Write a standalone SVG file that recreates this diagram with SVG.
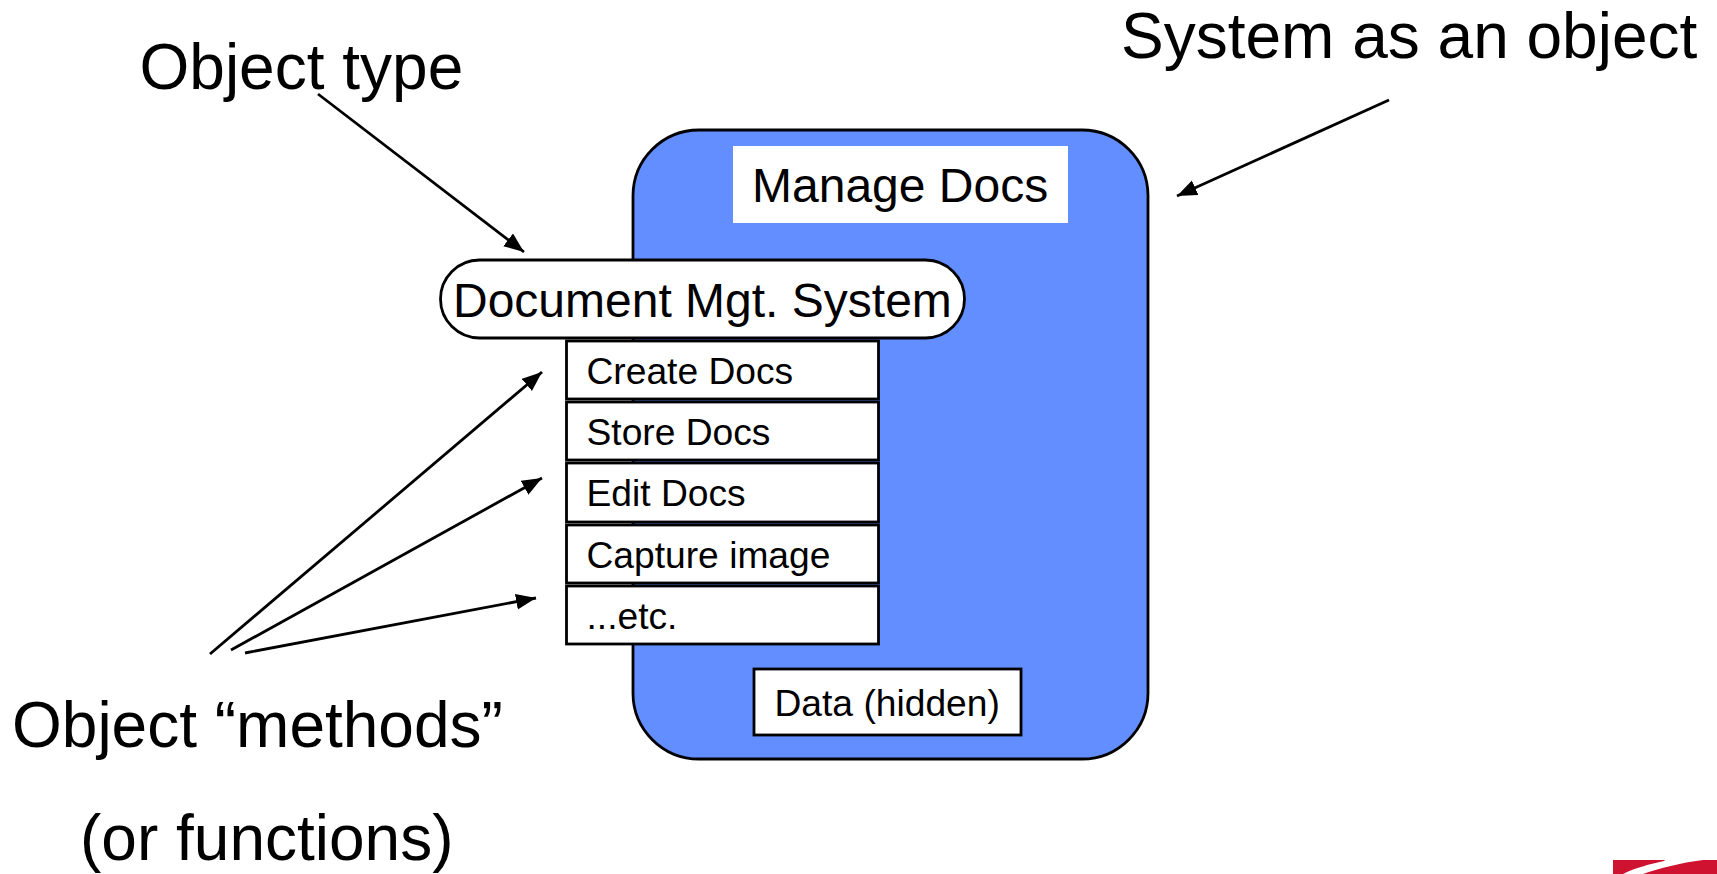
<svg xmlns="http://www.w3.org/2000/svg" width="1717" height="874" viewBox="0 0 1717 874">
<style>
text{font-family:"Liberation Sans",Arial,sans-serif;fill:#000}
.big{font-size:64px}
.mid{font-size:48px}
.sm{font-size:37.200px}
.box{fill:#fff;stroke:#000;stroke-width:2.800}
.c{fill:none;stroke:#000;stroke-width:2.800;marker-end:url(#a)}
</style>
<defs><marker id="a" markerUnits="userSpaceOnUse" markerWidth="22" markerHeight="18" refX="20" refY="8" orient="auto"><path d="M0 0L20 8L0 16z" fill="#000"/></marker></defs>
<rect width="1717" height="874" fill="#fff"/>
<g id="system"><rect x="633" y="130" width="515" height="629" rx="66" fill="#628eff" stroke="#000" stroke-width="2.800"/></g>
<g id="manage"><rect x="733" y="146" width="335" height="77" fill="#fff"/><text class="mid" x="752" y="202">Manage Docs</text></g>
<g id="type"><rect class="box" x="440.500" y="260" width="524" height="78" rx="39"/><text class="mid" x="453" y="317">Document Mgt. System</text></g>
<g id="m1"><rect class="box" x="566.500" y="341" width="312" height="58"/><text class="sm" x="586.500" y="384">Create Docs</text></g>
<g id="m2"><rect class="box" x="566.500" y="402" width="312" height="58"/><text class="sm" x="586.500" y="445">Store Docs</text></g>
<g id="m3"><rect class="box" x="566.500" y="463" width="312" height="59"/><text class="sm" x="586.500" y="506">Edit Docs</text></g>
<g id="m4"><rect class="box" x="566.500" y="525" width="312" height="58"/><text class="sm" x="586.500" y="568">Capture image</text></g>
<g id="m5"><rect class="box" x="566.500" y="586" width="312" height="58"/><text class="sm" x="586.500" y="629">...etc.</text></g>
<g id="data"><rect class="box" x="754" y="669" width="267" height="66"/><text class="sm" x="774.500" y="716">Data (hidden)</text></g>
<g id="connectors">
<line class="c" x1="318" y1="94" x2="524" y2="252"/>
<line class="c" x1="1389" y1="100" x2="1177" y2="196"/>
<line class="c" x1="210" y1="654" x2="542" y2="372"/>
<line class="c" x1="231" y1="650" x2="542" y2="478"/>
<line class="c" x1="245" y1="653" x2="536" y2="598"/>
</g>
<g id="labels">
<text class="big" x="139.500" y="89">Object type</text>
<text class="big" x="1121" y="58">System as an object</text>
<text class="big" x="12" y="747">Object “methods”</text>
<text class="big" x="80" y="860">(or functions)</text>
</g>
<g id="logo"><path d="M1613 860H1717V874H1613z" fill="#cf1230"/><path d="M1623 874C1635 868 1650 864 1664 861L1665 860H1703C1680 863 1660 868 1643 874z" fill="#fff"/></g>
</svg>
